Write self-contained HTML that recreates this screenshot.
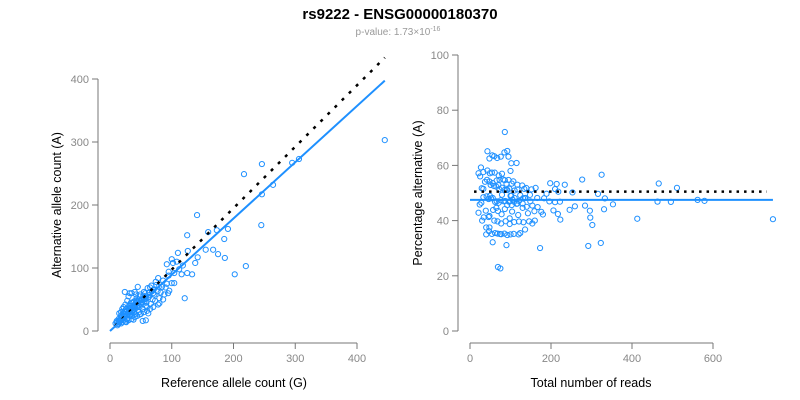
<!DOCTYPE html>
<html><head><meta charset="utf-8"><style>
body{margin:0;background:#fff;}
svg{display:block;font-family:"Liberation Sans",sans-serif;}
.tk{font-family:"Liberation Sans Narrow","Liberation Sans",sans-serif;font-size:11px;fill:#888;}
.lab{font-size:12.5px;fill:#000;}
</style></head><body>
<svg id="c" width="800" height="400">
<text x="400" y="19" text-anchor="middle" font-weight="bold" font-size="15">rs9222 - ENSG00000180370</text>
<text x="398" y="35" text-anchor="middle" font-size="10" fill="#999">p-value: 1.73×10<tspan dy="-4" font-size="7">-16</tspan></text>
<text x="234" y="387" text-anchor="middle" class="lab">Reference allele count (G)</text>
<text transform="translate(61,205) rotate(-90)" text-anchor="middle" class="lab">Alternative allele count (A)</text>
<text x="591" y="387" text-anchor="middle" class="lab">Total number of reads</text>
<text transform="translate(422,193) rotate(-90)" text-anchor="middle" class="lab">Percentage alternative (A)</text>
</svg>
<script>
const refCounts=[12,15,11,18,14,22,19,25,17,27,21,30,24,33,26,36,29,38,31,41,35,44,37,47,40,23,50,43,53,46,28,56,49,60,52,32,63,55,66,58,34,70,61,73,64,39,77,67,80,71,42,84,74,88,45,92,78,96,48,20,16,13,27,31,36,42,48,54,59,65,69,75,82,86,90,95,100,104,108,112,116,118,22,26,33,38,44,51,57,62,68,72,79,18,25,30,40,47,55,63,70,9,11,14,17,21,24,28,35,39,45,51,57,62,58,70,78,86,94,24,32,53,58,15,20,25,30,35,40,18,22,45,28,26,35,44,55,30,40,50,65,38,48,60,80,33,42,52,121,246,217,306,295,264,246,245,141,220,202,186,191,185,173,159,125,175,167,155,142,138,133,125,126,110,100,92,102,95,104,445];
const altCounts=[9,13,16,12,19,17,23,15,20,25,28,18,22,29,35,24,27,33,40,27,31,39,45,30,36,31,42,52,35,41,20,47,58,38,46,25,54,62,43,51,45,60,68,48,57,30,63,72,52,66,48,70,78,58,33,75,84,64,55,14,17,11,19,34,29,44,38,56,45,69,50,73,61,80,69,88,76,92,110,98,90,104,26,30,37,41,46,49,60,53,63,58,70,25,24,36,39,50,50,61,65,12,14,15,16,20,27,31,37,47,47,45,53,28,40,38,42,50,60,62,60,16,17,28,35,42,55,60,62,30,38,70,48,14,19,24,30,17,22,27,35,18,26,32,44,40,58,50,52,265,249,273,267,232,217,168,184,103,90,116,162,146,160,157,152,122,129,129,117,108,90,92,127,124,114,106,108,94,76,303];
const leftXTicks=[0,100,200,300,400];
const leftYTicks=[0,100,200,300,400];
const rightXTicks=[0,200,400,600];
const rightYTicks=[0,20,40,60,80,100];
const leftFitSlope=0.893, leftNullSlope=0.975;
const rightFitPct=47.5, rightNullPct=50.5;

const NS="http://www.w3.org/2000/svg",svg=document.getElementById('c');
function mk(t,a,p){const e=document.createElementNS(NS,t);for(const k in a)e.setAttribute(k,a[k]);(p||svg).appendChild(e);return e;}
const lx=v=>110+v*0.6175, ly=v=>331-v*0.63;
const rx=v=>470+v*0.405, ry=v=>331-v*2.76;

function axes(xs,ys,xt,yt,axX,axY,pre){
  const g=mk('g',{});
  
  
  mk('line',{x1:xs(xt[0]),x2:xs(xt[xt.length-1]),y1:axY,y2:axY,stroke:'#777'},g);
  xt.forEach(t=>{mk('line',{x1:xs(t),x2:xs(t),y1:axY,y2:axY+6,stroke:'#777'},g);
    const tx=mk('text',{x:xs(t),y:axY+19,'text-anchor':'middle','class':'tk'},g);tx.textContent=t;
    
    });
  mk('line',{x1:axX,x2:axX,y1:ys(yt[0]),y2:ys(yt[yt.length-1]),stroke:'#777'},g);
  yt.forEach(t=>{mk('line',{x1:axX-6,x2:axX,y1:ys(t),y2:ys(t),stroke:'#777'},g);
    const tx=mk('text',{x:axX-9,y:ys(t)+4,'text-anchor':'end','class':'tk'},g);tx.textContent=t;
    
    });
}
axes(lx,ly,leftXTicks,leftYTicks,98,343,'left');
axes(rx,ry,rightXTicks,rightYTicks,458,343,'right');

const gl=mk('g',{});


const gr=mk('g',{});


for(let i=0;i<refCounts.length;i++){
  const r=refCounts[i],a=altCounts[i],tot=r+a;
  const c1=mk('circle',{cx:lx(r),cy:ly(a),r:2.6,fill:'none',stroke:'#1E90FF','stroke-width':1},gl);
  
  
  const c2=mk('circle',{cx:rx(tot),cy:ry(a/tot*100),r:2.6,fill:'none',stroke:'#1E90FF','stroke-width':1},gr);
  
  
}
const maxRef=Math.max(...refCounts);
const maxTot=Math.max(...refCounts.map((r,i)=>r+altCounts[i]));
let l=mk('line',{x1:lx(8),y1:ly(8*leftNullSlope),x2:lx(maxRef),y2:ly(maxRef*leftNullSlope),stroke:'#000','stroke-width':2.5,'stroke-dasharray':'3 7'});


l=mk('line',{x1:lx(0),y1:ly(0),x2:lx(maxRef),y2:ly(maxRef*leftFitSlope),stroke:'#1E90FF','stroke-width':2});


l=mk('line',{x1:rx(10),y1:ry(rightNullPct),x2:rx(maxTot-15),y2:ry(rightNullPct),stroke:'#000','stroke-width':2.5,'stroke-dasharray':'2.5 5'});


l=mk('line',{x1:rx(0),y1:ry(rightFitPct),x2:rx(maxTot),y2:ry(rightFitPct),stroke:'#1E90FF','stroke-width':2});


</script>
</body></html>
